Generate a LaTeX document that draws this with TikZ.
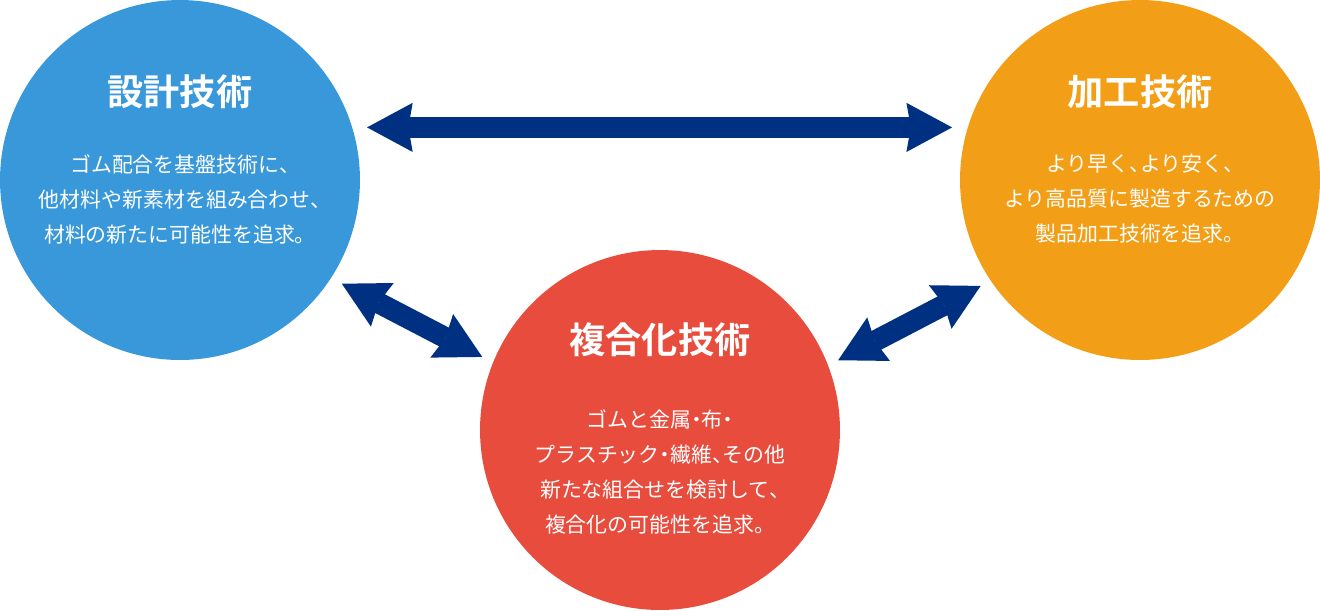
\documentclass[tikz,border=0pt]{standalone}
\usepackage{fontspec}
\usetikzlibrary{arrows.meta, positioning}
\newfontfamily\jpfont{Noto Sans CJK JP}[BoldFont={Noto Sans CJK JP Bold}]
\definecolor{designblue}{RGB}{56,152,218}
\definecolor{processorange}{RGB}{242,158,22}
\definecolor{compositered}{RGB}{231,76,61}
\definecolor{linknavy}{RGB}{0,48,130}
% half-width punctuation
\newcommand{\hcomma}{\makebox[0.5em][l]{、}}
\newcommand{\hdot}{\makebox[0.5em][c]{・}}

\begin{document}
\begin{tikzpicture}[x=0.02cm, y=-0.02cm]
% Define styles
\tikzstyle{techcircle}=[circle, minimum size=7.2cm, inner sep=0pt, outer sep=0pt]
\tikzstyle{heading}=[text=white, font={\jpfont\bfseries\fontsize{20.6}{24}\selectfont}]
\tikzstyle{desc}=[text=white, align=center, font={\jpfont\fontsize{11.9}{19.9}\selectfont}]
\tikzstyle{link}=[draw=linknavy, line width=12pt,
  {Stealth[length=26pt, width=28pt, inset=2.5pt, line width=0pt]}-{Stealth[length=26pt, width=28pt, inset=2.5pt, line width=0pt]}]
\useasboundingbox (0,0) rectangle (1320,610);
% Place circles
\node[techcircle, fill=designblue] (design) at (180,180) {};
\node[techcircle, fill=processorange] (process) at (1140,180) {};
\node[techcircle, fill=compositered] (composite) at (660,430) {};
% Texts
\node[heading] (designT) at (180,92) {設計技術};
\node[desc] (designB) at (180,199) {ゴム配合を基盤技術に\hcomma\\他材料や新素材を組み合わせ\hcomma\\材料の新たに可能性を追求。};
\node[heading] (processT) at (1140,92) {加工技術};
\node[desc] (processB) at (1140,199) {より早く\hcomma より安く\hcomma\\より高品質に製造するための\\製品加工技術を追求。};
\node[heading] (compositeT) at (660,340) {複合化技術};
\node[desc] (compositeB) at (660,472) {ゴムと金属\hdot 布\hdot\\プラスチック\hdot 繊維\hcomma その他\\新たな組合せを検討して\hcomma\\複合化の可能性を追求。};
% Draw arrows
\draw[link, shorten <=8.5pt, shorten >=9pt] (design.17) -- (process.163);
\draw[link, shorten <=7pt, shorten >=7pt] (design.-33.8) -- (composite.158.6);
\draw[link, shorten <=6.5pt, shorten >=6.5pt] (composite.21.5) -- (process.-146.7);
\end{tikzpicture}
\end{document}
